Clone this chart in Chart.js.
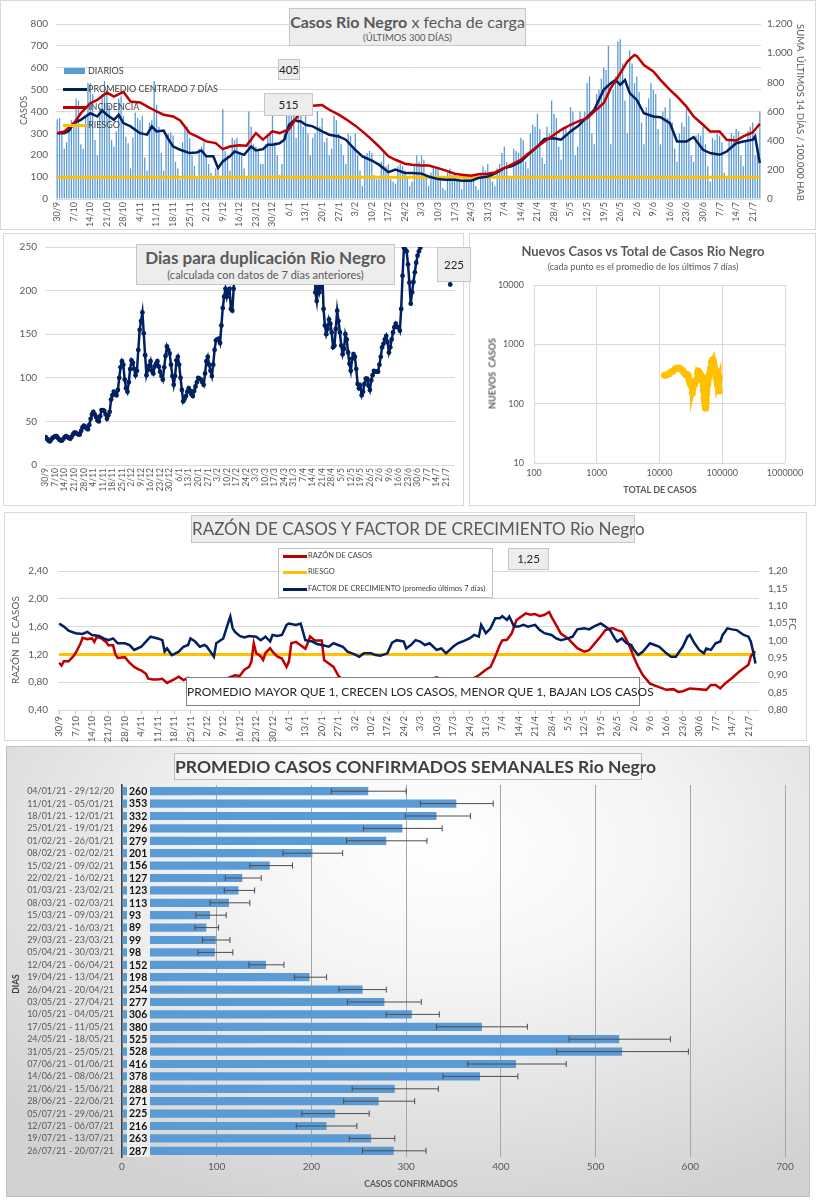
<!DOCTYPE html>
<html lang="es">
<head>
<meta charset="utf-8">
<title>Casos Rio Negro</title>
<script src="https://cdn.jsdelivr.net/npm/chart.js@4.4.1/dist/chart.umd.min.js"></script>
<style>
  html, body { margin: 0; padding: 0; background: #fff; }
  #page { position: relative; width: 816px; height: 1200px; overflow: hidden; font-family: Lato, "Open Sans", sans-serif; color: #595959; }
  .panel { position: absolute; box-sizing: border-box; border: 1px solid #d9d9d9; background: #fff; }
  canvas { position: absolute; }
  .box { position: absolute; box-sizing: border-box; background: #ededed; border: 1px solid #c6c6c6; text-align: center; color: #595959; white-space: nowrap; }
  .txt { position: absolute; white-space: nowrap; }
  .sw { position: absolute; }
  .rot { position: absolute; white-space: nowrap; transform-origin: center center; }
</style>
</head>
<body>
<div id="page">
  <div class="panel" style="left:0;top:0;width:816px;height:230px"></div>
  <div class="panel" style="left:3px;top:233px;width:461px;height:273px"></div>
  <div class="panel" style="left:469px;top:233px;width:347px;height:273px"></div>
  <div class="panel" style="left:4px;top:512px;width:803px;height:229px"></div>
  <div class="panel" style="left:6px;top:746px;width:804px;height:451px;border-color:#bfbfbf;background:radial-gradient(ellipse 75% 85% at 55% 22%, #ffffff 0%, #f5f5f5 35%, #d2d2d2 100%)"></div>

  <canvas id="c1" width="816" height="230" style="left:0;top:0"></canvas>
  <canvas id="c2" width="460" height="272" style="left:3px;top:233px"></canvas>
  <canvas id="c3" width="346" height="272" style="left:470px;top:233px"></canvas>
  <canvas id="c4" width="802" height="232" style="left:4px;top:512px"></canvas>
  <canvas id="c5" width="804" height="451" style="left:6px;top:746px"></canvas>

  <!-- grafico 1 -->
  <div class="box" style="left:289px;top:8px;width:237px;height:38px;padding-top:3px">
    <div style="font-size:16px;line-height:20px"><b>Casos Rio Negro</b> x fecha de carga</div>
    <div style="font-size:9.5px;line-height:12px">(ÚLTIMOS 300 DÍAS)</div>
  </div>
  <div class="box" style="left:278px;top:59px;width:22px;height:21px;font-size:11.5px;line-height:19px;color:#262626">405</div>
  <div class="box" style="left:264px;top:93px;width:49px;height:23px;font-size:11.5px;line-height:21px;color:#262626">515</div>
  <div class="sw" style="left:64px;top:68px;width:21px;height:6px;background:#5b9bd5"></div>
  <div class="txt" style="left:88px;top:65px;font-size:9px;color:#404040">DIARIOS</div>
  <div class="sw" style="left:63px;top:88px;width:24px;height:3px;background:#002060"></div>
  <div class="txt" style="left:88px;top:83px;font-size:9px;color:#404040">PROMEDIO CENTRADO 7 DÍAS</div>
  <div class="sw" style="left:63px;top:106px;width:24px;height:3px;background:#c00000"></div>
  <div class="txt" style="left:88px;top:101px;font-size:9px;color:#404040">INCIDENCIA</div>
  <div class="sw" style="left:63px;top:124px;width:24px;height:3px;background:#ffc000"></div>
  <div class="txt" style="left:88px;top:119px;font-size:9px;color:#404040">RIESGO</div>
  <div class="rot" style="left:3px;top:105px;width:40px;text-align:center;font-size:9px;transform:rotate(-90deg)">CASOS</div>
  <div class="rot" style="left:650px;top:107px;width:300px;text-align:center;font-size:9.5px;transform:rotate(90deg)">SUMA&nbsp; ÚLTIMOS 14 DÍAS / 100.000 HAB</div>

  <!-- grafico 2 -->
  <div class="box" style="left:136px;top:244px;width:259px;height:41px;padding-top:2px">
    <div style="font-size:17px;line-height:21px;font-weight:bold">Dias para duplicación Rio Negro</div>
    <div style="font-size:11px;line-height:14px">(calculada con datos de 7 días anteriores)</div>
  </div>
  <div class="box" style="left:437px;top:247px;width:34px;height:35px;font-size:11.5px;line-height:33px;color:#262626">225</div>

  <!-- grafico 3 -->
  <div class="txt" style="left:470px;width:346px;top:243px;text-align:center;font-size:13px;font-weight:bold">Nuevos Casos vs Total de Casos Rio Negro</div>
  <div class="txt" style="left:470px;width:346px;top:261px;text-align:center;font-size:9px">(cada punto es el promedio de los últimos 7 días)</div>
  <div class="rot" style="left:442px;top:368px;width:100px;text-align:center;font-size:9px;font-weight:bold;transform:rotate(-90deg)">NUEVOS&nbsp; CASOS</div>
  <div class="txt" style="left:560px;width:200px;top:484px;text-align:center;font-size:9px;font-weight:bold">TOTAL DE CASOS</div>

  <!-- grafico 4 -->
  <div class="box" style="left:191px;top:515px;width:444px;height:28px;font-size:17px;line-height:26px">RAZÓN DE CASOS Y FACTOR DE CRECIMIENTO Rio Negro</div>
  <div class="box" style="left:278px;top:548px;width:215px;height:50px;background:#fff;border-color:#bfbfbf"></div>
  <div class="sw" style="left:283px;top:555px;width:24px;height:3px;background:#c00000"></div>
  <div class="txt" style="left:308px;top:551px;font-size:7.5px;color:#404040">RAZÓN DE CASOS</div>
  <div class="sw" style="left:283px;top:571px;width:24px;height:3px;background:#ffc000"></div>
  <div class="txt" style="left:308px;top:567px;font-size:7.5px;color:#404040">RIESGO</div>
  <div class="sw" style="left:283px;top:588px;width:24px;height:3px;background:#002060"></div>
  <div class="txt" style="left:308px;top:584px;font-size:7.5px;color:#404040">FACTOR DE CRECIMIENTO (promedio últimos 7 días)</div>
  <div class="box" style="left:508px;top:548px;width:41px;height:22px;font-size:11.5px;line-height:20px;color:#262626">1,25</div>
  <div class="box" style="left:186px;top:677px;width:454px;height:29px;background:#fff;border-color:#7f7f7f;font-size:12px;line-height:27px;color:#262626">PROMEDIO MAYOR QUE 1, CRECEN LOS CASOS, MENOR QUE 1, BAJAN LOS CASOS</div>
  <div class="rot" style="left:-35px;top:634px;width:100px;text-align:center;font-size:10px;transform:rotate(-90deg)">RAZÓN&nbsp; DE CASOS</div>
  <div class="rot" style="left:778px;top:618px;width:30px;text-align:center;font-size:10px;transform:rotate(90deg)">FC</div>

  <!-- grafico 5 -->
  <div class="box" style="left:174px;top:753px;width:468px;height:27px;background:rgba(255,255,255,0.35);border-color:#bfbfbf;font-size:17.5px;line-height:25px;font-weight:bold;color:#404040">PROMEDIO CASOS CONFIRMADOS SEMANALES Rio Negro</div>
  <div class="rot" style="left:-4px;top:979px;width:40px;text-align:center;font-size:8.5px;font-weight:bold;color:#404040;transform:rotate(-90deg)">DIAS</div>
  <div class="txt" style="left:311px;width:200px;top:1179px;text-align:center;font-size:8.5px;font-weight:bold;color:#595959">CASOS CONFIRMADOS</div>
</div>

<script>
// ---------- datos ----------
// etiquetas del eje de fechas, una cada 7 dias (dia 0 = 30/9/2020)
const fechas = ["30/9","7/10","14/10","21/10","28/10","4/11","11/11","18/11","25/11","2/12","9/12",
  "16/12","23/12","30/12","6/1","13/1","20/1","27/1","3/2","10/2","17/2","24/2","3/3","10/3",
  "17/3","24/3","31/3","7/4","14/4","21/4","28/4","5/5","12/5","19/5","26/5","2/6","9/6",
  "16/6","23/6","30/6","7/7","14/7","21/7"];

// casos diarios (un valor por dia)
const diarios = [
  365,370,300,230,260,330,360, 340,460,450,250,230,380,530, 530,480,270,200,420,480,540,
  500,430,270,240,310,460,470, 380,285,255,140,280,395,370, 360,380,190,130,350,360,540,
  430,330,210,130,290,300,305, 290,170,140,90,260,340,330, 280,200,150,100,230,240,260,
  200,160,120,95,140,130,100, 410,220,200,130,280,270,280, 210,200,140,95,400,330,250,
  240,230,160,160,250,300,310, 410,260,200,110,160,300,390, 385,400,390,280,420,390,330,
  380,300,200,280,300,400,330, 370,260,280,200,230,380,360, 300,250,200,160,300,290,230,
  300,200,130,60,200,210,220, 210,110,90,90,170,220,150, 160,90,80,70,150,160,150,
  130,100,60,80,150,200,170, 200,180,110,60,120,150,140, 140,100,50,40,120,140,110,
  120,90,80,45,95,110,100, 110,90,60,40,120,150,130, 160,120,80,60,140,160,210,
  240,170,100,100,230,220,210, 280,270,170,140,300,340,330, 390,320,190,160,330,300,450,
  390,370,240,180,330,330,300, 420,400,200,240,400,360,400, 530,560,300,250,480,500,550,
  600,590,700,250,500,560,720, 730,620,450,300,680,620,530, 560,490,350,250,420,460,530,
  500,480,320,250,400,420,370, 460,350,230,170,300,350,330, 420,380,200,170,290,300,290,
  330,250,150,80,280,270,300, 290,260,120,100,270,300,290, 320,310,200,150,270,310,330,
  350,200,240,400
];

// promedio centrado 7 dias [dia, casos]
const promedio7 = [[0,301],[3,301],[5,312],[7,347],[10,362],[14,392],[17,377],[19,405],[21,385],[24,362],
  [26,385],[28,347],[31,332],[35,301],[38,294],[40,332],[42,309],[45,313],[47,274],[49,240],[52,225],
  [56,210],[59,213],[61,222],[63,195],[66,195],[68,141],[70,172],[73,195],[75,217],[77,210],[79,202],
  [82,240],[84,222],[87,228],[89,248],[91,248],[94,255],[96,271],[98,339],[100,359],[103,354],[105,339],
  [108,332],[112,309],[115,294],[119,286],[122,271],[126,225],[129,195],[133,176],[136,157],[140,123],
  [143,134],[147,119],[150,119],[154,116],[157,103],[161,91],[164,88],[168,88],[171,84],[175,84],
  [178,96],[182,103],[185,116],[189,141],[192,149],[196,172],[199,202],[203,240],[206,274],[210,278],
  [213,271],[217,309],[220,332],[224,374],[227,408],[231,499],[234,529],[236,544],[238,522],[240,544],
  [242,484],[245,453],[248,392],[252,377],[255,374],[259,347],[262,263],[266,263],[269,283],[273,225],
  [276,210],[280,202],[283,217],[287,255],[290,263],[294,271],[295,286],[297,164]];

// incidencia: suma ultimos 14 dias / 100.000 hab [dia, valor]
const incidencia = [[0,451],[3,463],[7,516],[10,588],[14,657],[17,680],[21,730],[24,702],[28,735],[31,668],
  [35,662],[38,635],[42,600],[45,578],[49,566],[52,539],[56,452],[59,429],[63,395],[67,383],[70,342],
  [73,360],[77,368],[80,365],[84,452],[87,407],[91,464],[94,452],[98,479],[101,555],[105,635],[108,639],
  [112,644],[115,612],[119,578],[122,548],[126,503],[129,464],[133,407],[136,360],[140,293],[143,269],
  [147,242],[150,235],[154,230],[157,230],[161,212],[164,196],[168,173],[171,167],[175,160],[178,169],
  [182,173],[185,182],[189,212],[192,235],[196,269],[199,310],[203,360],[206,395],[210,440],[213,474],
  [217,509],[220,531],[224,554],[227,600],[231,657],[234,760],[238,862],[241,942],[244,988],[245,981],
  [248,919],[252,874],[255,817],[259,748],[262,703],[266,634],[269,566],[273,509],[276,463],[280,463],
  [283,406],[287,401],[290,429],[294,456],[297,516]];
const riesgoIncidencia = [[0,150],[297,150]];

// dias para duplicacion (un valor por dia, null = fuera de escala)
const duplicacion = [
  32,30,28,27,29,31,32,33,33,31, 29,28,28,30,32,33,32,31,30,32, 35,37,37,36,35,35,39,43,45,44,
  42,41,46,53,58,61,58,55,51,50, 56,63,63,62,58,53,57,61,75,80, 84,82,80,86,100,112,119,115,98,88,
  84,95,110,120,117,110,103,108,132,155, 165,175,151,126,103,109,114,119,108,105,
  113,116,119,113,107,102,98,112,125,136, 132,128,115,102,92,102,120,124,115,100,
  86,73,76,79,84,88,85,81,79,85, 90,95,100,99,98,95,92,105,119,124,
  115,108,102,115,132,143,144,145,140,160, 180,193,202,193,200,202,179,177,202,230,
  270,null,null,null,null,null,null,null,null,null, null,null,null,null,null,null,null,null,null,null,
  null,null,null,null,null,null,null,null,null,null, null,null,null,null,null,null,null,null,null,null,
  null,null,null,null,null,null,null,null,null,null, null,null,null,null,null,null,null,280,198,188,
  209,198,204,224,179,160,150,156,167,162,
  152,135,137,156,177,165,152,137,127,133, 150,144,129,116,108,122,127,124,110,93,
  88,91,80,84,93,99,99,91,86,97, 103,108,107,107,107,115,124,135,139,144,
  148,141,129,135,144,152,158,162,158,158, 154,179,217,249,247,245,230,209,185,198,
  210,221,232,240,245,249,270,null,null,null, null,null,null,null,null,null,null,null,null,null,
  null,null,null,null,null,null,null,207
];

// nuevos casos (promedio 7 dias) vs total de casos [total, nuevos]
const nuevosVsTotal = [[12000,300],[13000,305],[14200,320],[15400,345],[16600,360],[18000,390],[19400,400],
  [20700,395],[22000,380],[23200,365],[24400,340],[25500,320],[26600,305],[27600,310],[28700,300],
  [29500,250],[30300,230],[31000,215],[31700,210],[32400,200],[33100,190],[33400,150],[33800,175],
  [34500,200],[35200,215],[35900,210],[36700,225],[37500,235],[38400,250],[39300,255],[40300,330],
  [41000,355],[41800,350],[42900,335],[44000,320],[45000,300],[46100,295],[47100,285],[48100,270],
  [48800,240],[49600,200],[50200,175],[50800,160],[51300,125],[51700,120],[52100,118],[52500,115],
  [52900,105],[53300,92],[53600,88],[53900,85],[54200,84],[54500,88],[54800,96],[55100,103],[55500,116],
  [55900,141],[56400,150],[56900,172],[57600,202],[58300,240],[59200,274],[60100,278],[61000,271],
  [62100,300],[63200,332],[64400,374],[65800,408],[67200,499],[69000,529],[70000,544],[70800,522],
  [71600,544],[72500,484],[73600,453],[74500,420],[75500,392],[76600,377],[77500,374],[78800,347],
  [80100,263],[81100,263],[82200,283],[83100,225],[84000,210],[84800,202],[85500,217],[86300,230],
  [87000,255],[87900,263],[88700,271],[89300,286],[89700,164]];
const decadasTotal = [100, 1000, 10000, 100000, 1000000];
const decadasNuevos = [10, 100, 1000, 10000];

// razon de casos [dia, razon] y factor de crecimiento [dia, fc]
const razon = [[0,1.08],[1,1.04],[2,1.10],[4,1.10],[6,1.17],[7,1.22],[9,1.35],[10,1.44],[12,1.42],[14,1.43],
  [15,1.38],[16,1.45],[18,1.43],[20,1.38],[21,1.33],[23,1.33],[24,1.20],[25,1.15],[28,1.16],[30,1.08],
  [32,1.02],[34,0.98],[35,0.97],[37,0.92],[38,0.85],[40,0.84],[42,0.84],[44,0.85],[46,0.79],[49,0.84],
  [51,0.88],[53,0.83],[55,0.86],[56,0.76],[57,0.72],[58,0.78],[60,0.74],[63,0.72],[66,0.73],[68,0.73],
  [69,0.81],[70,0.76],[72,0.86],[75,0.90],[77,0.89],[79,0.98],[81,1.02],[82,1.10],[83,1.36],[84,1.22],
  [86,1.17],[87,1.12],[88,1.22],[90,1.29],[91,1.24],[93,1.17],[95,1.14],[97,1.02],[98,1.10],[99,1.36],
  [101,1.38],[103,1.33],[105,1.28],[106,1.36],[107,1.46],[109,1.40],[112,1.40],[113,1.12],[115,1.07],
  [117,1.02],[119,0.90],[121,0.82],[123,0.81],[126,0.76],[128,0.77],[130,0.74],[133,0.72],[135,0.66],
  [137,0.59],[140,0.60],[143,0.62],[147,0.65],[150,0.69],[152,0.78],[154,0.82],[157,0.83],[161,0.87],
  [164,0.83],[166,0.76],[168,0.75],[170,0.78],[172,0.76],[175,0.78],[177,0.86],[179,0.90],[182,0.98],
  [184,1.02],[186,1.17],[188,1.34],[189,1.40],[191,1.41],[193,1.50],[195,1.69],[197,1.74],[199,1.79],
  [201,1.77],[203,1.78],[205,1.75],[207,1.77],[209,1.81],[210,1.74],[212,1.62],[214,1.50],[217,1.43],
  [219,1.36],[221,1.29],[224,1.24],[226,1.26],[228,1.34],[231,1.46],[233,1.55],[236,1.58],[238,1.55],
  [240,1.53],[242,1.41],[244,1.26],[245,1.17],[247,1.02],[249,0.90],[252,0.78],[255,0.74],[259,0.69],
  [262,0.70],[264,0.66],[266,0.67],[269,0.71],[273,0.70],[276,0.69],[278,0.76],[280,0.76],[282,0.71],
  [284,0.78],[287,0.86],[290,0.95],[292,1.00],[294,1.05],[295,1.17],[296,1.22],[297,1.24]];
const factorCrecimiento = [[0,1.049],[2,1.040],[4,1.028],[7,1.021],[10,1.019],[12,1.025],[14,1.016],[17,1.013],
  [19,1.006],[21,1.001],[23,1.006],[25,0.992],[28,0.992],[30,0.987],[32,0.973],[35,0.982],[37,0.997],
  [39,1.011],[42,1.006],[44,1.001],[45,0.968],[46,0.977],[48,0.958],[49,0.961],[51,0.968],[53,0.982],
  [55,0.987],[56,1.006],[58,0.997],[60,0.982],[62,0.987],[63,0.982],[65,0.963],[66,0.953],[67,0.992],
  [70,1.006],[72,1.049],[73,1.069],[74,1.035],[75,1.025],[77,1.013],[79,1.009],[81,1.013],[84,1.011],
  [86,1.001],[88,1.011],[90,0.997],[91,1.016],[93,1.013],[95,1.016],[97,1.045],[98,1.049],[101,1.045],
  [103,1.049],[105,1.001],[108,0.997],[110,0.990],[112,0.987],[115,0.982],[117,0.992],[119,0.987],
  [121,0.982],[123,0.968],[126,0.960],[128,0.953],[130,0.963],[133,0.963],[135,0.958],[137,0.956],
  [140,0.963],[142,0.994],[144,1.001],[147,0.997],[148,0.977],[150,0.987],[152,1.001],[154,0.997],
  [156,0.987],[158,0.992],[161,0.973],[163,0.977],[165,0.963],[168,0.982],[170,0.992],[172,0.997],
  [175,1.006],[177,1.016],[179,1.011],[180,1.045],[182,1.021],[184,1.035],[186,1.064],[188,1.064],
  [189,1.070],[191,1.059],[192,1.069],[194,1.040],[196,1.040],[198,1.045],[200,1.040],[203,1.045],
  [205,1.030],[207,1.021],[210,1.016],[212,1.006],[214,1.001],[217,1.006],[219,1.011],[221,1.032],
  [224,1.035],[226,1.032],[228,1.040],[231,1.049],[233,1.040],[235,1.030],[237,1.006],[238,0.997],
  [240,1.006],[242,0.992],[244,0.987],[245,0.975],[247,0.958],[249,0.968],[252,0.992],[254,0.987],
  [256,0.982],[259,0.963],[261,0.953],[263,0.953],[266,0.982],[268,1.011],[269,1.016],[271,0.992],
  [273,0.973],[275,0.963],[276,0.977],[278,0.973],[280,0.992],[282,0.997],[283,1.016],[284,1.025],
  [285,1.035],[287,1.032],[289,1.030],[290,1.025],[292,1.016],[294,1.011],[295,0.997],[296,0.968],[297,0.934]];
const riesgoRazon = [[0,1.2],[297,1.2]];

// promedio semanal de casos confirmados y su rango
const semanas = ["04/01/21 - 29/12/20","11/01/21 - 05/01/21","18/01/21 - 12/01/21","25/01/21 - 19/01/21",
  "01/02/21 - 26/01/21","08/02/21 - 02/02/21","15/02/21 - 09/02/21","22/02/21 - 16/02/21",
  "01/03/21 - 23/02/21","08/03/21 - 02/03/21","15/03/21 - 09/03/21","22/03/21 - 16/03/21",
  "29/03/21 - 23/03/21","05/04/21 - 30/03/21","12/04/21 - 06/04/21","19/04/21 - 13/04/21",
  "26/04/21 - 20/04/21","03/05/21 - 27/04/21","10/05/21 - 04/05/21","17/05/21 - 11/05/21",
  "24/05/21 - 18/05/21","31/05/21 - 25/05/21","07/06/21 - 01/06/21","14/06/21 - 08/06/21",
  "21/06/21 - 15/06/21","28/06/21 - 22/06/21","05/07/21 - 29/06/21","12/07/21 - 06/07/21",
  "19/07/21 - 13/07/21","26/07/21 - 20/07/21"];
const promedios = [260,353,332,296,279,201,156,127,123,113,93,89,99,98,152,198,254,277,306,380,525,528,416,378,288,271,225,216,263,287];
const errMin = [221,315,299,255,237,170,135,109,108,93,78,77,85,80,134,182,229,238,279,332,472,459,365,339,243,234,190,184,240,254];
const errMax = [300,392,368,338,322,233,180,147,140,135,110,102,114,117,171,216,279,316,335,428,579,598,469,418,334,309,261,248,288,321];

// ---------- comun ----------
Chart.defaults.font.family = "Lato, 'Open Sans', sans-serif";
Chart.defaults.color = "#595959";
Chart.defaults.animation = false;
Chart.defaults.plugins.legend.display = false;
Chart.defaults.plugins.tooltip.enabled = false;

const pares = (arr) => arr.map(([x, y]) => ({ x, y }));
const ancho = (w) => (s) => { s.width = w; };
const alto = (h) => (s) => { s.height = h; };
const miles = (v) => (v >= 1000 ? (v / 1000).toFixed(3) : String(v));
const coma = (v) => v.toFixed(2).replace(".", ",");

function ejeFechas(min, max, h, size, marcas) {
  return {
    type: "linear", min, max, offset: false,
    afterBuildTicks: (s) => { s.ticks = fechas.map((f, i) => ({ value: i * 7 })); },
    afterFit: alto(h),
    grid: marcas
      ? { display: true, drawOnChartArea: false, tickLength: 4, color: "#bfbfbf" }
      : { display: false, drawTicks: false },
    border: { display: false },
    ticks: {
      autoSkip: false, minRotation: 90, maxRotation: 90, padding: marcas ? 2 : 3,
      font: { size }, callback: (v, i) => fechas[i]
    }
  };
}

// ---------- 1: casos diarios ----------
new Chart(document.getElementById("c1"), {
  type: "bar",
  data: {
    datasets: [
      { type: "line", data: pares(incidencia), yAxisID: "y2", borderColor: "#c00000", borderWidth: 2.5, pointRadius: 0, order: 1 },
      { type: "line", data: pares(promedio7), yAxisID: "y", borderColor: "#002060", borderWidth: 2.5, pointRadius: 0, order: 2 },
      { type: "line", data: pares(riesgoIncidencia), yAxisID: "y2", borderColor: "#ffc000", borderWidth: 3, pointRadius: 0, order: 3 },
      { type: "bar", data: diarios.map((v, i) => ({ x: i, y: v })), yAxisID: "y", backgroundColor: "#5b9bd5",
        barPercentage: 0.55, categoryPercentage: 1, order: 10 }
    ]
  },
  options: {
    responsive: false,
    layout: { padding: { top: 24, left: 0, right: 0, bottom: 0 } },
    scales: {
      x: ejeFechas(-0.5, 297.5, 31, 9, false),
      y: {
        position: "left", min: 0, max: 800, afterFit: ancho(56),
        ticks: { stepSize: 100, padding: 8, font: { size: 10 } },
        grid: { color: "#d9d9d9", drawTicks: false }, border: { display: false }
      },
      y2: {
        position: "right", min: 0, max: 1200, afterFit: ancho(55),
        ticks: { stepSize: 200, padding: 6, font: { size: 10 }, callback: miles },
        grid: { display: false, drawTicks: false }, border: { display: false }
      }
    }
  }
});

// ---------- 2: dias para duplicacion ----------
new Chart(document.getElementById("c2"), {
  type: "line",
  data: {
    datasets: [{
      data: duplicacion.map((v, i) => ({ x: i, y: v })),
      borderColor: "#002060", borderWidth: 2.5, pointRadius: 2.4, pointBackgroundColor: "#002060",
      pointBorderWidth: 0, spanGaps: false
    }]
  },
  options: {
    responsive: false,
    layout: { padding: { top: 13, right: 8, left: 0, bottom: 0 } },
    scales: {
      x: ejeFechas(-0.5, 300.5, 40, 8.5, false),
      y: {
        min: 0, max: 250, afterFit: ancho(42),
        ticks: { stepSize: 50, padding: 8, font: { size: 10 } },
        grid: { color: "#d9d9d9", drawTicks: false }, border: { display: false }
      }
    }
  }
});

// ---------- 3: nuevos casos vs total ----------
new Chart(document.getElementById("c3"), {
  type: "scatter",
  data: {
    datasets: [{
      data: pares(nuevosVsTotal), showLine: true, borderColor: "#ffc000", borderWidth: 5,
      pointRadius: 3.5, pointBackgroundColor: "#ffc000", pointBorderWidth: 0
    }]
  },
  options: {
    responsive: false,
    layout: { padding: { top: 52, right: 31, left: 0, bottom: 0 } },
    scales: {
      x: {
        type: "logarithmic", min: 100, max: 1000000, afterFit: alto(42),
        afterBuildTicks: (s) => { s.ticks = decadasTotal.map((v) => ({ value: v })); },
        ticks: { font: { size: 9 }, padding: 5, callback: (v) => String(v) },
        grid: { color: "#d9d9d9", drawTicks: false }, border: { display: false }
      },
      y: {
        type: "logarithmic", min: 10, max: 10000, afterFit: ancho(64),
        afterBuildTicks: (s) => { s.ticks = decadasNuevos.map((v) => ({ value: v })); },
        ticks: { font: { size: 9 }, padding: 10, callback: (v) => String(v) },
        grid: { color: "#d9d9d9", drawTicks: false }, border: { display: false }
      }
    }
  }
});

// ---------- 4: razon de casos y factor de crecimiento ----------
new Chart(document.getElementById("c4"), {
  type: "line",
  data: {
    datasets: [
      { data: pares(razon), yAxisID: "y", borderColor: "#c00000", borderWidth: 2.5, pointRadius: 0, order: 2 },
      { data: pares(factorCrecimiento), yAxisID: "y2", borderColor: "#002060", borderWidth: 2.5, pointRadius: 0, order: 1 },
      { data: pares(riesgoRazon), yAxisID: "y", borderColor: "#ffc000", borderWidth: 3, pointRadius: 0, order: 3 }
    ]
  },
  options: {
    responsive: false,
    layout: { padding: { top: 59, left: 0, right: 0, bottom: 0 } },
    scales: {
      x: ejeFechas(-0.5, 298.5, 34, 9.5, true),
      y: {
        position: "left", min: 0.4, max: 2.4, afterFit: ancho(54),
        ticks: { stepSize: 0.2, padding: 10, font: { size: 10 }, callback: coma },
        grid: { color: "#d9d9d9", drawTicks: false }, border: { display: false }
      },
      y2: {
        position: "right", min: 0.8, max: 1.2, afterFit: ancho(47),
        ticks: { stepSize: 0.05, padding: 9, font: { size: 10 }, callback: coma },
        grid: { display: false, drawTicks: false }, border: { display: false }
      }
    }
  }
});

// ---------- 5: promedio semanal con barras de error ----------
const barrasError = {
  id: "barrasError",
  afterDatasetsDraw(chart) {
    const { ctx, scales: { x, y } } = chart;
    const meta = chart.getDatasetMeta(0);
    const h = y.height / semanas.length;
    const x0 = x.getPixelForValue(0);
    ctx.save();
    meta.data.forEach((bar, i) => {
      const yc = bar.y;
      const x1 = x.getPixelForValue(errMin[i]);
      const x2 = x.getPixelForValue(errMax[i]);
      ctx.strokeStyle = "#4d4d4d";
      ctx.lineWidth = 1;
      ctx.beginPath();
      ctx.moveTo(x1, yc); ctx.lineTo(x2, yc);
      ctx.moveTo(x1, yc - 3); ctx.lineTo(x1, yc + 3);
      ctx.moveTo(x2, yc - 3); ctx.lineTo(x2, yc + 3);
      ctx.stroke();
      // etiqueta con el valor
      ctx.fillStyle = "#eceef0";
      ctx.fillRect(x0 + 5, yc - h / 2, 23, h);
      ctx.fillStyle = "#111";
      ctx.font = "bold 10.5px Lato";
      ctx.textBaseline = "middle";
      ctx.fillText(String(promedios[i]), x0 + 7, yc + 0.5);
    });
    ctx.restore();
  }
};

new Chart(document.getElementById("c5"), {
  type: "bar",
  data: {
    labels: semanas,
    datasets: [{ data: promedios, backgroundColor: "#5b9bd5", barPercentage: 0.66, categoryPercentage: 1 }]
  },
  options: {
    responsive: false,
    indexAxis: "y",
    layout: { padding: { top: 39, right: 25, left: 0, bottom: 0 } },
    scales: {
      x: {
        min: 0, max: 700, afterFit: alto(40),
        ticks: { stepSize: 100, padding: 4, font: { size: 10 } },
        grid: { color: "#a6a6a6", drawTicks: false }, border: { display: false }
      },
      y: {
        afterFit: ancho(116),
        ticks: { autoSkip: false, padding: 8, font: { size: 9 }, color: "#595959" },
        grid: { display: false, drawTicks: false },
        border: { display: true, color: "#404040", width: 1.5 }
      }
    }
  },
  plugins: [barrasError]
});
</script>
</body>
</html>
